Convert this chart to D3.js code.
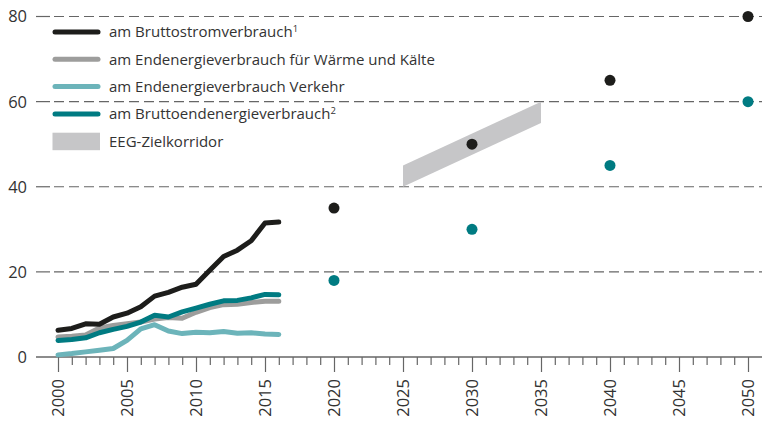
<!DOCTYPE html>
<html>
<head>
<meta charset="utf-8">
<script src="https://cdn.jsdelivr.net/npm/d3@7"></script>
<style>
  body { margin: 0; background: #fff; }
  svg { display: block; font-family: "Open Sans", sans-serif; }
</style>
</head>
<body>
<svg id="chart" width="762" height="421"></svg>
<script>
/*global d3*/
"use strict";

// Anteil erneuerbarer Energien (%), Ist-Werte 2000-2016
var years = [ 2000, 2001, 2002, 2003, 2004, 2005, 2006, 2007, 2008, 2009, 2010, 2011, 2012, 2013, 2014, 2015, 2016 ];
var strom = [ 6.3, 6.7, 7.8, 7.7, 9.4, 10.3, 11.8, 14.3, 15.2, 16.4, 17.1, 20.4, 23.6, 25.1, 27.3, 31.5, 31.7 ];
var waerme = [ 4.7, 4.9, 5.2, 6.8, 7.4, 7.8, 8.2, 8.9, 9.3, 9.1, 10.5, 11.6, 12.3, 12.4, 12.8, 13.1, 13.1 ];
var verkehr = [ 0.5, 0.8, 1.2, 1.6, 2.0, 3.9, 6.6, 7.6, 6.1, 5.5, 5.8, 5.7, 6.0, 5.6, 5.7, 5.4, 5.3 ];
var brutto = [ 3.9, 4.1, 4.5, 5.7, 6.5, 7.2, 8.2, 9.8, 9.4, 10.6, 11.5, 12.4, 13.2, 13.3, 13.9, 14.7, 14.6 ];

// Ziele
var targetYears = [ 2020, 2030, 2040, 2050 ];
var targetStrom = [ 35, 50, 65, 80 ];
var targetBrutto = [ 18, 30, 45, 60 ];

// EEG-Zielkorridor
var corridorYears = [ 2025, 2035 ];
var corridorLow = [ 40, 55 ];
var corridorHigh = [ 45, 60 ];

var yTicks = [ 0, 20, 40, 60, 80 ];
var xMajor = [ 2000, 2005, 2010, 2015, 2020, 2025, 2030, 2035, 2040, 2045, 2050 ];

var colors = {
  strom: "#1d1d1b",
  waerme: "#9d9d9c",
  verkehr: "#6cb4ba",
  brutto: "#007b82",
  corridor: "#c6c6c8",
  grid: "#666666",
  text: "#333333"
};

var legendItems = [
  { label: "am Bruttostromverbrauch", sup: "1", color: colors.strom },
  { label: "am Endenergieverbrauch für Wärme und Kälte", sup: "", color: colors.waerme },
  { label: "am Endenergieverbrauch Verkehr", sup: "", color: colors.verkehr },
  { label: "am Bruttoendenergieverbrauch", sup: "2", color: colors.brutto },
  { label: "EEG-Zielkorridor", sup: "", color: colors.corridor, box: true }
];

var svg = d3.select( "#chart" );
var x = d3.scaleLinear().domain( [ 2000, 2050 ] ).range( [ 58, 748 ] );
var y = d3.scaleLinear().domain( [ 0, 80 ] ).range( [ 357, 16.5 ] );
var left = 36;
var right = 762;

// gridlines
var grid = svg.append( "g" );
yTicks.filter( function( d ) { return d > 0; } ).forEach( function( d ) {
  grid.append( "line" )
      .attr( "x1", left ).attr( "x2", 50 )
      .attr( "y1", y( d ) ).attr( "y2", y( d ) )
      .attr( "stroke", colors.grid ).attr( "stroke-width", 1.2 );
  grid.append( "line" )
      .attr( "x1", 54 ).attr( "x2", right )
      .attr( "y1", y( d ) ).attr( "y2", y( d ) )
      .attr( "stroke", colors.grid ).attr( "stroke-width", 1.2 )
      .attr( "stroke-dasharray", "10,5" );
} );

// y labels
svg.append( "g" ).selectAll( "text" )
   .data( yTicks )
   .enter().append( "text" )
   .attr( "x", 27 )
   .attr( "y", function( d ) { return y( d ); } )
   .attr( "dy", "0.36em" )
   .attr( "text-anchor", "end" )
   .attr( "font-size", 16.5 )
   .attr( "fill", colors.text )
   .text( function( d ) { return d; } );

// x axis
var xAxis = d3.axisBottom( x )
  .tickValues( d3.range( 2000, 2051 ) )
  .tickSize( 8 )
  .tickFormat( "" );
var ax = svg.append( "g" ).attr( "transform", "translate(0," + y( 0 ) + ")" ).call( xAxis );
ax.select( ".domain" ).remove();
ax.selectAll( "line" ).attr( "stroke", colors.grid ).attr( "stroke-width", 1.2 )
  .attr( "y2", function( d ) { return d % 5 === 0 ? 15 : 8; } );
ax.append( "line" )
  .attr( "x1", left ).attr( "x2", right )
  .attr( "stroke", colors.grid ).attr( "stroke-width", 1.3 );

svg.append( "g" ).selectAll( "text" )
   .data( xMajor )
   .enter().append( "text" )
   .attr( "transform", function( d ) { return "translate(" + x( d ) + ",379) rotate(-90)"; } )
   .attr( "dy", "0.36em" )
   .attr( "text-anchor", "end" )
   .attr( "font-size", 16.5 )
   .attr( "fill", colors.text )
   .text( function( d ) { return d; } );

// corridor
var corridorData = corridorYears.map( function( yr, i ) {
  return { x: yr, lo: corridorLow[i], hi: corridorHigh[i] };
} );
svg.append( "path" )
   .datum( corridorData )
   .attr( "fill", colors.corridor )
   .attr( "d", d3.area()
     .x( function( d ) { return x( d.x ); } )
     .y0( function( d ) { return y( d.lo ); } )
     .y1( function( d ) { return y( d.hi ); } ) );

// lines
var line = d3.line()
  .x( function( d, i ) { return x( years[i] ); } )
  .y( function( d ) { return y( d ); } );
[ [ waerme, colors.waerme ], [ verkehr, colors.verkehr ], [ brutto, colors.brutto ], [ strom, colors.strom ] ]
  .forEach( function( s ) {
    svg.append( "path" )
       .datum( s[0] )
       .attr( "fill", "none" )
       .attr( "stroke", s[1] )
       .attr( "stroke-width", 5 )
       .attr( "stroke-linejoin", "round" )
       .attr( "stroke-linecap", "round" )
       .attr( "d", line );
  } );

// target points
function dots( values, color ) {
  svg.append( "g" ).selectAll( "circle" )
     .data( values )
     .enter().append( "circle" )
     .attr( "cx", function( d, i ) { return x( targetYears[i] ); } )
     .attr( "cy", function( d ) { return y( d ); } )
     .attr( "r", 5.5 )
     .attr( "fill", color );
}
dots( targetStrom, colors.strom );
dots( targetBrutto, colors.brutto );

// legend
var lg = svg.append( "g" );
legendItems.forEach( function( item, i ) {
  var cy = 32 + i * 27.3;
  if ( item.box ) {
    lg.append( "rect" )
      .attr( "x", 52.5 ).attr( "y", cy - 8.5 )
      .attr( "width", 47.5 ).attr( "height", 17.5 )
      .attr( "fill", item.color );
  } else {
    lg.append( "line" )
      .attr( "x1", 55 ).attr( "x2", 98 )
      .attr( "y1", cy ).attr( "y2", cy )
      .attr( "stroke", item.color )
      .attr( "stroke-width", 5 )
      .attr( "stroke-linecap", "round" );
  }
  var t = lg.append( "text" )
    .attr( "x", 109 ).attr( "y", cy )
    .attr( "dy", "0.36em" )
    .attr( "font-size", 15 )
    .attr( "fill", colors.text )
    .text( item.label );
  if ( item.sup ) {
    t.append( "tspan" )
     .attr( "font-size", 9.5 )
     .attr( "dy", "-0.55em" )
     .text( item.sup );
  }
} );
</script>
</body>
</html>
